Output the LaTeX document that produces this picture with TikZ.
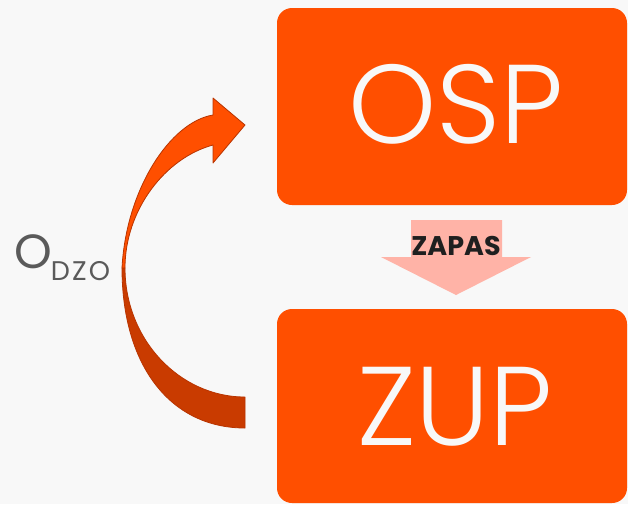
\documentclass[tikz,border=0pt]{standalone}
\usepackage{fontspec}
\setmainfont{Poppins}
\newfontfamily\lightfont{Poppins Light}
\newfontfamily\labfont[LetterSpace=8]{Poppins}
\definecolor{bg}{HTML}{F8F8F8}
\definecolor{boxor}{HTML}{FF4F00}
\definecolor{arrdark}{HTML}{C93B00}
\definecolor{arredge}{HTML}{B83400}
\definecolor{pinkarr}{HTML}{FFB3A7}
\definecolor{labgray}{HTML}{5A5A5A}
\tikzset{
  bigbox/.style={fill=boxor, rounded corners=15pt},
  bigtext/.style={text=bg, font=\lightfont\fontsize{112}{112}\selectfont, anchor=base, inner sep=0pt},
  edgeline/.style={draw=arredge, line width=0.8pt, line join=round}
}
\begin{document}
\begin{tikzpicture}[x=1pt,y=-1pt]
\fill[bg] (0,0) rectangle (628,504);
\useasboundingbox (0,0) rectangle (628,504);
% boxes
\fill[bigbox] (277,8) rectangle (627,205);
\node[inner sep=0pt] (osp) at (452,106) {};
\node[bigtext] (osptext) at (456,143) {OSP};
\fill[bigbox] (277,309) rectangle (627,503);
\node[inner sep=0pt] (zup) at (452,406) {};
\node[bigtext] (zuptext) at (455,445) {ZUP};
% ZAPAS block arrow
\fill[pinkarr] (411,220) -- (502,220) -- (502,257) -- (531,257) -- (456,295) -- (381,257) -- (411,257) -- cycle;
\node[font=\bfseries\fontsize{27}{27}\selectfont, text=black!88, anchor=base, inner sep=0pt] (zapas) at (456,255) {ZAPAS};
% curved arrow: lower (back) part
\path[fill=arrdark, edgeline] (122,268) .. controls (122,365) and (170,428) .. (245,428)
   -- (245,397) .. controls (180,397) and (125,340) .. (125,268) -- cycle;
% upper (front) part with head
\path[fill=boxor, edgeline] (122,268) .. controls (126,190) and (170,122) .. (213,115)
   -- (213,98) -- (245,125) -- (213,163) -- (213,145)
   .. controls (165,158) and (125,210) .. (125,268) -- cycle;
% label
\node[text=labgray, anchor=base west, inner sep=0pt] (odzo) at (14,268)
  {\fontsize{48}{48}\selectfont O\hspace{-1pt}\raisebox{-12pt}{\labfont\fontsize{27}{27}\selectfont DZO}};
\end{tikzpicture}
\end{document}
